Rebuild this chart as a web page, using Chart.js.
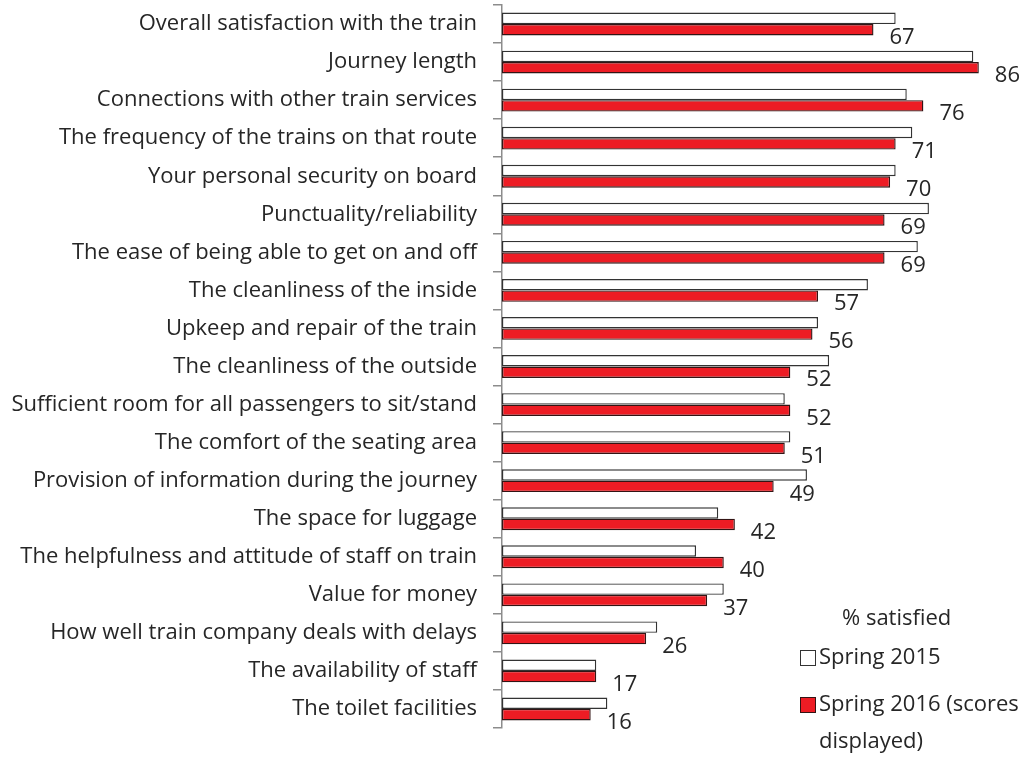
<!DOCTYPE html>
<html>
<head>
<meta charset="utf-8">
<script src="https://cdn.jsdelivr.net/npm/chart.js@4/dist/chart.umd.min.js"></script>
<style>
  html, body { margin: 0; padding: 0; background: #fff; }
  #wrap { width: 1027px; height: 758px; }
</style>
</head>
<body>
<div id="wrap"><canvas id="chart" width="1027" height="758"></canvas></div>
<script>
// categories, top to bottom
const categories = [
  'Overall satisfaction with the train',
  'Journey length',
  'Connections with other train services',
  'The frequency of the trains on that route',
  'Your personal security on board',
  'Punctuality/reliability',
  'The ease of being able to get on and off',
  'The cleanliness of the inside',
  'Upkeep and repair of the train',
  'The cleanliness of the outside',
  'Sufficient room for all passengers to sit/stand',
  'The comfort of the seating area',
  'Provision of information during the journey',
  'The space for luggage',
  'The helpfulness and attitude of staff on train',
  'Value for money',
  'How well train company deals with delays',
  'The availability of staff',
  'The toilet facilities'
];

// % satisfied, Spring 2015
const spring2015 = [71, 85, 73, 74, 71, 77, 75, 66, 57, 59, 51, 52, 55, 39, 35, 40, 28, 17, 19];
// % satisfied, Spring 2016 (scores displayed)
const spring2016 = [67, 86, 76, 71, 70, 69, 69, 57, 56, 52, 52, 51, 49, 42, 40, 37, 26, 17, 16];

const legendTitle = '% satisfied';
const seriesNames = ['Spring 2015', 'Spring 2016 (scores displayed)'];

const FONT = '"Open Sans", sans-serif';
const TEXT = '#262626';

// value labels next to the red bars
const valueLabels = {
  id: 'valueLabels',
  afterDatasetsDraw(chart) {
    const ctx = chart.ctx;
    const meta = chart.getDatasetMeta(1);
    ctx.save();
    ctx.font = '22px ' + FONT;
    ctx.fillStyle = TEXT;
    ctx.textAlign = 'left';
    ctx.textBaseline = 'middle';
    meta.data.forEach((bar, i) => {
      ctx.fillText(String(spring2016[i]), bar.x + 16, bar.y + 8);
    });
    ctx.restore();
  }
};

// legend block in the lower right corner
const sideLegend = {
  id: 'sideLegend',
  afterDraw(chart) {
    const ctx = chart.ctx;
    const ds = chart.data.datasets;
    ctx.save();
    ctx.font = '22px ' + FONT;
    ctx.fillStyle = TEXT;
    ctx.textBaseline = 'middle';
    ctx.textAlign = 'left';
    ctx.fillText(legendTitle, 842, 619);

    const rows = [
      { y: 658, lines: [ds[0].label] },
      { y: 705, lines: ['Spring 2016 (scores', 'displayed)'] }
    ];
    rows.forEach((row, i) => {
      ctx.fillStyle = ds[i].backgroundColor;
      ctx.fillRect(800, row.y - 8, 15, 15);
      ctx.strokeStyle = ds[i].borderColor;
      ctx.lineWidth = 1;
      ctx.strokeRect(800.5, row.y - 7.5, 15, 15);
      ctx.fillStyle = TEXT;
      row.lines.forEach((t, k) => ctx.fillText(t, 819, row.y + k * 37));
    });
    ctx.restore();
  }
};

new Chart(document.getElementById('chart'), {
  type: 'bar',
  data: {
    labels: categories,
    datasets: [
      {
        label: seriesNames[0],
        data: spring2015,
        backgroundColor: '#ffffff',
        borderColor: '#333333',
        borderWidth: 1.4,
        borderSkipped: false
      },
      {
        label: seriesNames[1],
        data: spring2016,
        backgroundColor: '#ED1C24',
        borderColor: '#331414',
        borderWidth: 1.4,
        borderSkipped: false
      }
    ]
  },
  options: {
    indexAxis: 'y',
    responsive: false,
    animation: false,
    categoryPercentage: 0.6,
    barPercentage: 1,
    layout: { padding: { top: 5, bottom: 30, right: 26, left: 0 } },
    plugins: {
      legend: { display: false },
      tooltip: { enabled: false }
    },
    scales: {
      x: {
        display: false,
        min: 0,
        max: 90
      },
      y: {
        afterFit(scale) {
          scale.width = 502;
          scale.paddingTop = 0;
          scale.paddingBottom = 0;
        },
        border: { display: true, color: '#8c8c8c', width: 1.5 },
        grid: {
          offset: true,
          drawOnChartArea: false,
          drawTicks: true,
          tickLength: 9,
          color: '#8c8c8c',
          lineWidth: 1.5
        },
        ticks: {
          padding: 16,
          color: TEXT,
          font: { family: FONT, size: 22 },
          autoSkip: false
        }
      }
    }
  },
  plugins: [valueLabels, sideLegend]
});
</script>
</body>
</html>
